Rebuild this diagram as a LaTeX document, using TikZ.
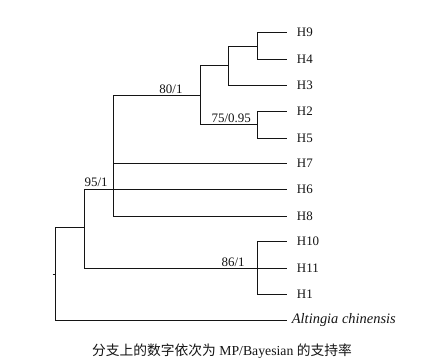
\documentclass[tikz,border=0pt]{standalone}
\usepackage{fontspec}
\setmainfont{Liberation Serif}
\newfontfamily\cjkfont{Noto Sans CJK SC}
\usepackage{tikz}
\usetikzlibrary{positioning, calc}
\definecolor{treeink}{RGB}{20,20,20}
\tikzset{
  branch/.style={line width=0.9pt, color=treeink},
  leaf/.style={right=9bp of #1, inner sep=1pt,
    font=\fontsize{13}{15}\selectfont, text=treeink},
  support/.style={above, inner sep=1.5pt,
    font=\fontsize{13}{15}\selectfont, text=treeink},
  caption/.style={font=\fontsize{13.8}{16}\selectfont, text=treeink}
}

\begin{document}
\begin{tikzpicture}[x=1bp, y=-1bp]
  \useasboundingbox (0,0) rectangle (448,360);

  % Leaf tips
  \coordinate (t9)  at (286.7,32.7);
  \coordinate (t4)  at (286.7,59.3);
  \coordinate (t3)  at (286.7,85.0);
  \coordinate (t2)  at (286.7,111.7);
  \coordinate (t5)  at (286.7,138.3);
  \coordinate (t7)  at (286.7,163.3);
  \coordinate (t6)  at (286.7,189.0);
  \coordinate (t8)  at (286.7,216.0);
  \coordinate (t10) at (286.7,241.7);
  \coordinate (t11) at (286.7,268.3);
  \coordinate (t1)  at (286.7,294.0);
  \coordinate (talt) at (286.7,320.0);

  % Leaf labels
  \node[leaf=t9]  (h9)  {H9};
  \node[leaf=t4]  (h4)  {H4};
  \node[leaf=t3]  (h3)  {H3};
  \node[leaf=t2]  (h2)  {H2};
  \node[leaf=t5]  (h5)  {H5};
  \node[leaf=t7]  (h7)  {H7};
  \node[leaf=t6]  (h6)  {H6};
  \node[leaf=t8]  (h8)  {H8};
  \node[leaf=t10] (h10) {H10};
  \node[leaf=t11] (h11) {H11};
  \node[leaf=t1]  (h1)  {H1};
  \node[leaf=talt, xshift=-5bp, font=\fontsize{14.5}{16}\selectfont] (alt) {\itshape Altingia chinensis};

  % Internal nodes
  \coordinate (n94)  at (257.3,46.0);
  \coordinate (n943) at (228.7,65.0);
  \coordinate (n25)  at (257.3,124.3);
  \coordinate (nh)   at (200.7,95.3);
  \coordinate (npoly) at (113.3,189.0);
  \coordinate (nh10) at (257.3,268.3);
  \coordinate (nin)  at (84.3,227.7);
  \coordinate (root) at (55.3,274.0);
  \coordinate (stub) at (52.7,274.0);

  % Branches
  \draw[branch] (n94) |- (t9);
  \draw[branch] (n94) |- (t4);
  \draw[branch] (n943) |- (n94);
  \draw[branch] (n943) |- (t3);
  \draw[branch] (n25) |- (t2);
  \draw[branch] (n25) |- (t5);
  \draw[branch] (nh) |- (n943);
  \draw[branch] (nh) |- (n25) node[support, pos=0.77] {75/0.95};
  \draw[branch] (npoly) |- (nh) node[support, pos=0.83] {80/1};
  \draw[branch] (npoly) |- (t7);
  \draw[branch] (npoly) |- (t8);
  \draw[branch] (nh10) |- (t10);
  \draw[branch] (nh10) |- (t1);
  \draw[branch] (nh10) -- (t11);
  \draw[branch] (nin) |- (npoly) node[support, pos=0.705] {95/1};
  \draw[branch] (npoly) -- (t6);
  \draw[branch] (nin) |- (nh10) node[support, pos=0.93] {86/1};
  \draw[branch] (root) |- (nin);
  \draw[branch] (root) |- (talt);
  \draw[branch] (stub) -- (root);

  % Caption
  \node[caption] (cap) at (222,351) {{\cjkfont 分支上的数字依次为} MP/Bayesian {\cjkfont 的支持率}};
\end{tikzpicture}
\end{document}
